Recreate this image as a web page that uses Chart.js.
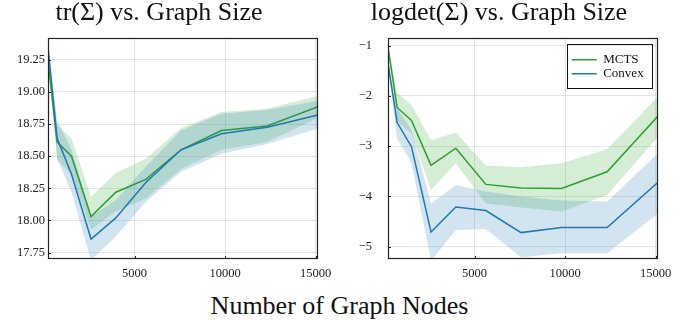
<!DOCTYPE html>
<html>
<head>
<meta charset="utf-8">
<script src="https://cdn.jsdelivr.net/npm/chart.js@4"></script>
<style>
html, body { margin: 0; padding: 0; background: #fff; overflow: hidden; width: 673px; height: 320px; }
.panel { position: absolute; top: 0; }
#xlabel { position: absolute; left: 3px; top: 292px; width: 673px; text-align: center;
  font: 26px "Liberation Serif", serif; line-height: 28px; color: #111; }
</style>
</head>
<body>
<canvas id="trChart" class="panel" style="left:0" width="366" height="285"></canvas>
<canvas id="ldChart" class="panel" style="left:340px" width="366" height="285"></canvas>
<div id="xlabel">Number of Graph Nodes</div>
<script>
// graph sizes (x)
const graphSizes = [225, 729, 1521, 2601, 3969, 5625, 7569, 9801, 12321, 15129];
const xTicks = [5000, 10000, 15000];

// tr(Sigma)
const mctsTr = [19.24, 18.61, 18.50, 18.03, 18.22, 18.32, 18.55, 18.70, 18.735, 18.885];
const mctsTrUp = [19.25, 18.74, 18.64, 18.185, 18.37, 18.48, 18.72, 18.845, 18.87, 18.97];
const mctsTrLow = [19.23, 18.47, 18.36, 17.93, 18.07, 18.17, 18.40, 18.55, 18.61, 18.80];
const convexTr = [19.35, 18.64, 18.36, 17.855, 18.02, 18.295, 18.55, 18.675, 18.725, 18.82];
const convexTrUp = [19.36, 18.78, 18.55, 18.03, 18.16, 18.42, 18.70, 18.83, 18.86, 18.93];
const convexTrLow = [19.34, 18.48, 18.22, 17.69, 17.875, 18.145, 18.38, 18.52, 18.595, 18.715];
const trTicks = [17.75, 18.0, 18.25, 18.5, 18.75, 19.0, 19.25];

// logdet(Sigma)
const mctsLd = [-1.03, -2.23, -2.49, -3.38, -3.04, -3.76, -3.83, -3.84, -3.51, -2.40];
const mctsLdUp = [-1.01, -1.93, -2.18, -2.88, -2.73, -3.39, -3.42, -3.34, -3.06, -2.01];
const mctsLdLow = [-1.05, -2.50, -2.75, -3.87, -3.34, -4.14, -4.22, -4.30, -3.97, -2.81];
const convexLd = [-1.35, -2.53, -3.01, -4.71, -4.21, -4.28, -4.72, -4.62, -4.62, -3.72];
const convexLdUp = [-1.33, -2.25, -2.68, -4.14, -3.77, -3.90, -4.00, -4.08, -4.10, -3.14];
const convexLdLow = [-1.37, -2.85, -3.34, -5.28, -4.67, -4.65, -5.21, -5.13, -5.13, -4.34];
const ldTicks = [-5, -4, -3, -2, -1];

const GREEN = '#2ca02c';
const BLUE = '#1f77b4';
const FONT = '"Liberation Serif", "Times New Roman", serif';

function pts(ys) {
    return ys.map((y, i) => ({ x: graphSizes[i], y }));
}

function band(ys, color, fillTo) {
    return {
        label: '',
        data: pts(ys),
        borderWidth: 0,
        pointRadius: 0,
        backgroundColor: color,
        fill: fillTo,
    };
}

function line(label, ys, color) {
    return {
        label,
        data: pts(ys),
        borderColor: color,
        backgroundColor: color,
        borderWidth: 1.5,
        pointRadius: 0,
        fill: false,
    };
}

// box frame, inward tick marks and legend frame
const framePlugin = {
    id: 'frame',
    afterLayout(chart) {
        const lg = chart.legend;
        if (lg && lg.options.display) {
            const a = chart.chartArea;
            lg.left = a.right - 87.3;
            lg.top = a.top + 14.2;
        }
    },
    afterDraw(chart) {
        const ctx = chart.ctx;
        const a = chart.chartArea;
        const xs = chart.scales.x;
        const ys = chart.scales.y;
        ctx.save();
        ctx.strokeStyle = '#222';
        ctx.lineWidth = 1;
        ctx.beginPath();
        for (const t of xs.ticks) {
            const px = Math.round(xs.getPixelForValue(t.value)) + 0.5;
            ctx.moveTo(px, a.bottom);
            ctx.lineTo(px, a.bottom - 3);
        }
        for (const t of ys.ticks) {
            const py = Math.round(ys.getPixelForValue(t.value)) + 0.5;
            ctx.moveTo(a.left, py);
            ctx.lineTo(a.left + 3, py);
        }
        ctx.stroke();
        ctx.lineWidth = 1.2;
        ctx.strokeRect(Math.round(a.left) + 0.5, Math.round(a.top) + 0.5,
            Math.round(a.right - a.left) - 1, Math.round(a.bottom - a.top) - 1);
        if (chart.legend && chart.legend.options.display) {
            ctx.lineWidth = 1;
            ctx.strokeStyle = '#111';
            ctx.strokeRect(Math.round(a.right - 91.3) + 0.5, Math.round(a.top + 6.3) + 0.5, 85, 44);
        }
        ctx.restore();
    },
};

function makeChart(id, title, series, yMin, yMax, yTicks, yFmt, yPad, showLegend) {
    const [m, mUp, mLow, c, cUp, cLow] = series;
    return new Chart(document.getElementById(id), {
        type: 'line',
        data: {
            datasets: [
                line('Convex', c, BLUE),
                band(cUp, 'rgba(31,119,180,0.2)', 2),
                band(cLow, 'rgba(31,119,180,0.2)', false),
                line('MCTS', m, GREEN),
                band(mUp, 'rgba(44,160,44,0.2)', 5),
                band(mLow, 'rgba(44,160,44,0.2)', false),
            ],
        },
        options: {
            responsive: false,
            animation: false,
            layout: { padding: { left: 0, right: 48, top: 0, bottom: 0 } },
            scales: {
                x: {
                    type: 'linear',
                    min: graphSizes[0],
                    max: graphSizes[graphSizes.length - 1],
                    afterBuildTicks: (s) => { s.ticks = xTicks.map(v => ({ value: v })); },
                    afterFit: (s) => { s.height = 26; },
                    grid: { color: 'rgba(0,0,0,0.1)', drawTicks: false },
                    border: { display: false },
                    ticks: { padding: 7, color: '#222', font: { family: FONT, size: 12.5 }, maxRotation: 0,
                        callback: (v) => String(v) },
                },
                y: {
                    min: yMin,
                    max: yMax,
                    afterBuildTicks: (s) => { s.ticks = yTicks.map(v => ({ value: v })); },
                    afterFit: (s) => { s.width = 48; },
                    grid: { color: 'rgba(0,0,0,0.1)', drawTicks: false },
                    border: { display: false },
                    ticks: { padding: yPad, color: '#222', font: { family: FONT, size: 12.5 }, callback: yFmt },
                },
            },
            plugins: {
                title: {
                    display: true,
                    text: title,
                    color: '#111',
                    font: { family: FONT, size: 26, weight: 'normal', lineHeight: 1.05 },
                    padding: { top: 0, bottom: 10.7 },
                },
                legend: {
                    display: showLegend,
                    position: 'chartArea',
                    align: 'start',
                    reverse: true,
                    labels: {
                        filter: (item) => item.text !== '',
                        usePointStyle: true,
                        pointStyle: 'line',
                        pointStyleWidth: 25,
                        padding: 1,
                        color: '#111',
                        font: { family: FONT, size: 13 },
                    },
                },
                tooltip: { enabled: false },
            },
        },
        plugins: [framePlugin],
    });
}

makeChart('trChart', 'tr(Σ) vs. Graph Size',
    [mctsTr, mctsTrUp, mctsTrLow, convexTr, convexTrUp, convexTrLow],
    17.70, 19.42, trTicks, (v) => v.toFixed(2), 3, false);

makeChart('ldChart', 'logdet(Σ) vs. Graph Size',
    [mctsLd, mctsLdUp, mctsLdLow, convexLd, convexLdUp, convexLdLow],
    -5.245, -0.847, ldTicks, (v) => '\u2212' + Math.abs(v), 16, true);
</script>
</body>
</html>
